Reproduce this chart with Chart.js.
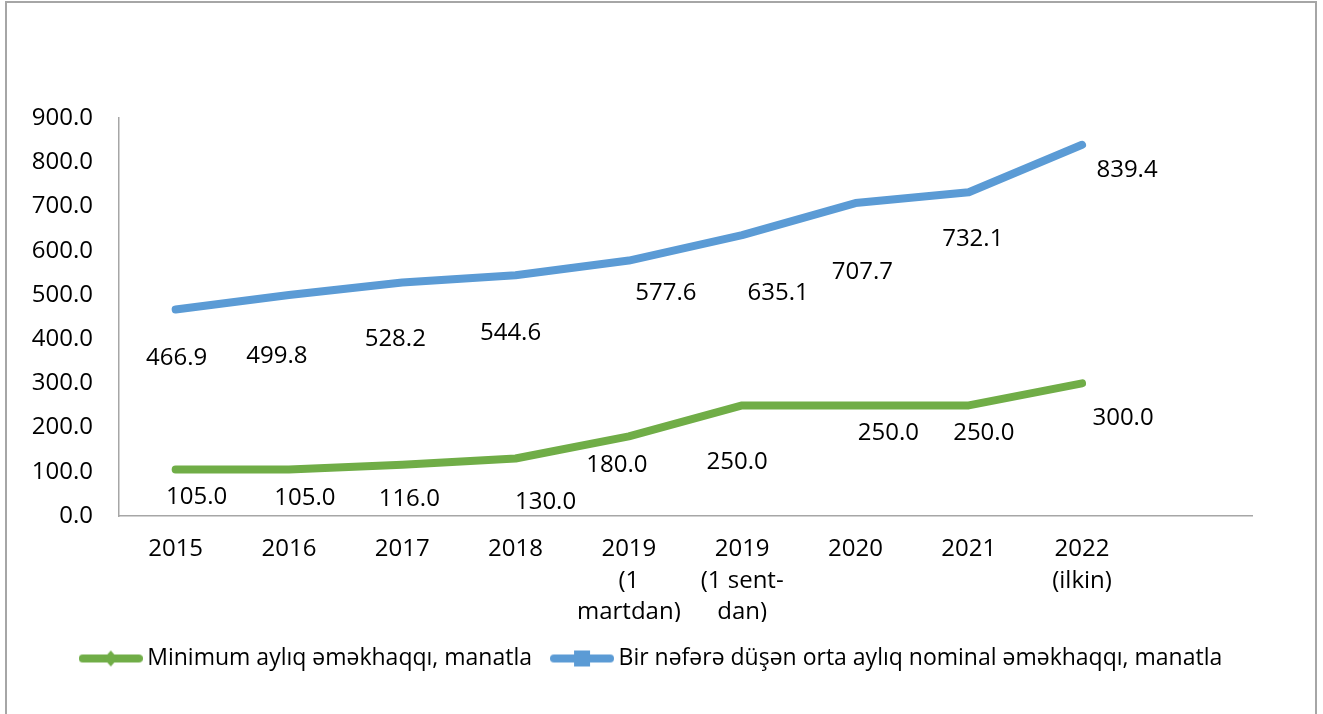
<!DOCTYPE html>
<html>
<head>
<meta charset="utf-8">
<script src="https://cdn.jsdelivr.net/npm/chart.js@4/dist/chart.umd.min.js"></script>
<style>
  body { margin: 0; background: #fff; }
  #wrap { position: relative; width: 1323px; height: 714px; overflow: hidden; }
  #frame { position: absolute; left: 5px; top: 1px; width: 1312px; height: 800px; border: 2px solid #a6a6a6; box-sizing: border-box; }
  #c { position: absolute; left: 0; top: 0; }
</style>
</head>
<body>
<div id="wrap">
  <div id="frame"></div>
  <canvas id="c" width="1323" height="714"></canvas>
</div>
<script>
var years = ['2015', '2016', '2017', '2018', ['2019', '(1', 'martdan)'], ['2019', '(1 sent-', 'dan)'], '2020', '2021', ['2022', '(ilkin)'], ''];
var minWage = [105.0, 105.0, 116.0, 130.0, 180.0, 250.0, 250.0, 250.0, 300.0];
var avgWage = [466.9, 499.8, 528.2, 544.6, 577.6, 635.1, 707.7, 732.1, 839.4];
var yTicks = [0, 100, 200, 300, 400, 500, 600, 700, 800, 900];

// label offsets from the point (px), like the excel placement
var minOff = [[21,28],[16,29],[7,34],[30,44],[-12,29],[-5,57],[33,28],[15,28],[41,35]];
var avgOff = [[1,49],[-12,61],[-7,57],[-5,58],[37,33],[36,58],[7,69],[4,47],[45,25]];

var FONT = '"Open Sans", sans-serif';
var green = '#70AD47', blue = '#5B9BD5';

function legendIcon(color, shape) {
  var cv = document.createElement('canvas');
  cv.width = 64; cv.height = 18;
  var g = cv.getContext('2d');
  g.strokeStyle = color; g.lineWidth = 8; g.lineCap = 'round';
  g.beginPath(); g.moveTo(4, 9); g.lineTo(60, 9); g.stroke();
  g.fillStyle = color;
  if (shape === 'diamond') {
    g.beginPath(); g.moveTo(32, 1); g.lineTo(39, 9); g.lineTo(32, 17); g.lineTo(25, 9); g.closePath(); g.fill();
  } else {
    g.fillRect(24, 1, 16, 16);
  }
  return cv;
}
var icons = [legendIcon(green, 'diamond'), legendIcon(blue, 'square')];

var labelPlugin = {
  id: 'pointLabels',
  afterLayout: function(chart) {
    // legend sits a bit right of the plot centre in the original
    chart.legend.left += 23;
    chart.legend.right += 23;
  },
  afterDatasetsDraw: function(chart) {
    var ctx = chart.ctx;
    var offs = [minOff, avgOff];
    ctx.save();
    ctx.font = '24px ' + FONT;
    ctx.fillStyle = '#000';
    ctx.textAlign = 'center';
    ctx.textBaseline = 'middle';
    chart.data.datasets.forEach(function(ds, di) {
      var meta = chart.getDatasetMeta(di);
      meta.data.forEach(function(pt, i) {
        var v = ds.data[i];
        if (v == null) return;
        ctx.fillText(v.toFixed(1), pt.x + offs[di][i][0], pt.y + offs[di][i][1]);
      });
    });
    ctx.restore();
  }
};

new Chart(document.getElementById('c'), {
  type: 'line',
  data: {
    labels: years,
    datasets: [
      { label: 'Minimum aylıq əməkhaqqı, manatla', data: minWage, borderColor: green, backgroundColor: green },
      { label: 'Bir nəfərə düşən orta aylıq nominal əməkhaqqı, manatla', data: avgWage, borderColor: blue, backgroundColor: blue }
    ]
  },
  options: {
    responsive: false,
    animation: false,
    layout: { padding: { left: 10, right: 71, top: 118, bottom: 34 } },
    elements: {
      line: { borderWidth: 8, borderCapStyle: 'round', borderJoinStyle: 'round', tension: 0 },
      point: { radius: 0, hoverRadius: 0 }
    },
    scales: {
      x: {
        offset: true,
        grid: { display: false, drawTicks: false },
        border: { color: '#a6a6a6', width: 1.5 },
        ticks: { color: '#000', font: { family: FONT, size: 24, lineHeight: 1.3 }, padding: 18, maxRotation: 0, autoSkip: false },
        afterFit: function(s) { s.height = 106; }
      },
      y: {
        min: 0, max: 900,
        afterBuildTicks: function(s) { s.ticks = yTicks.map(function(v) { return { value: v }; }); },
        grid: { display: false, drawTicks: false },
        border: { color: '#a6a6a6', width: 1.5 },
        ticks: { color: '#000', font: { family: FONT, size: 24 }, padding: 26,
          callback: function(v) { return Number(v).toFixed(1); } },
        afterFit: function(s) { s.width = 109; }
      }
    },
    plugins: {
      tooltip: { enabled: false },
      legend: {
        position: 'bottom',
        labels: {
          color: '#000',
          font: { family: FONT, size: 23 },
          usePointStyle: true,
          pointStyleWidth: 50,
          padding: 25,
          generateLabels: function(chart) {
            var items = Chart.defaults.plugins.legend.labels.generateLabels(chart);
            items.forEach(function(it, i) { it.pointStyle = icons[i]; });
            return items;
          }
        }
      }
    }
  },
  plugins: [labelPlugin]
});
</script>
</body>
</html>
